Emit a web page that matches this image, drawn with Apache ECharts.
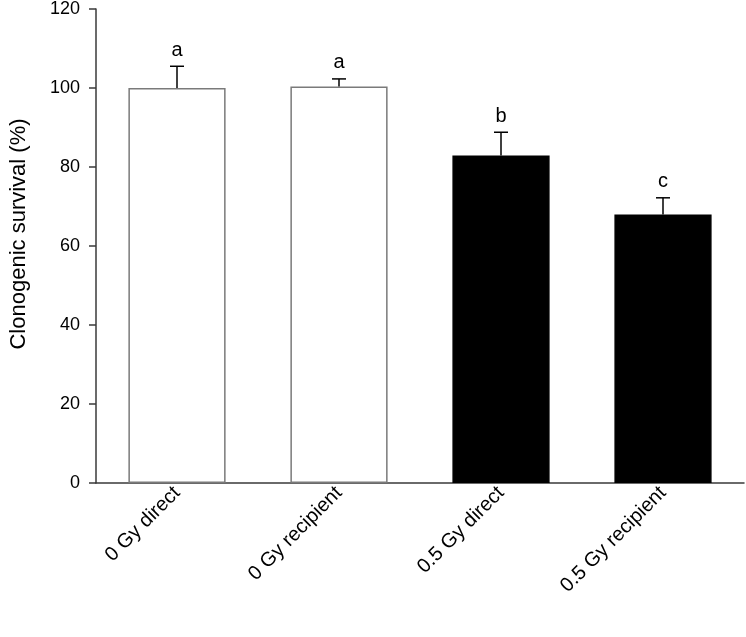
<!DOCTYPE html>
<html>
<head>
<meta charset="utf-8">
<script src="https://cdn.jsdelivr.net/npm/echarts@6/dist/echarts.min.js"></script>
<style>
  html, body { margin: 0; padding: 0; background: #fff; }
  #chart { width: 746px; height: 637px; }
</style>
</head>
<body>
<div id="chart"></div>
<script>
const categories = ['0 Gy direct', '0 Gy recipient', '0.5 Gy direct', '0.5 Gy recipient']
const survival = [100, 100.4, 82.9, 68.0]
const errorUp = [5.5, 1.9, 5.9, 4.2]
const letters = ['a', 'a', 'b', 'c']
const barFill = ['#ffffff', '#ffffff', '#000000', '#000000']
const yTicks = { min: 0, max: 120, interval: 20 }

const FONT = 'Liberation Sans, Arial, sans-serif'
const AXIS_COLOR = '#3a3a3a'

const chart = echarts.init(document.getElementById('chart'))

const barData = survival.map((v, i) => ({
  value: v,
  itemStyle: {
    color: barFill[i],
    borderColor: barFill[i] === '#000000' ? '#000000' : '#7a7a7a',
    borderWidth: 1.5
  }
}))

const errData = survival.map((v, i) => [i, v, v + errorUp[i], letters[i]])

chart.setOption({
  animation: false,
  grid: { left: 84, right: 2, top: 7, bottom: 154, containLabel: false },
  xAxis: {
    type: 'category',
    data: categories,
    axisLine: { lineStyle: { color: AXIS_COLOR, width: 1.5 } },
    axisTick: { alignWithLabel: true, length: 7, lineStyle: { color: '#000', width: 1.5 } },
    axisLabel: {
      rotate: 45, color: '#000', fontSize: 20, fontFamily: FONT, margin: 7,
      padding: [20, 0, 0, 0]
    }
  },
  yAxis: {
    type: 'value',
    min: yTicks.min,
    max: yTicks.max,
    interval: yTicks.interval,
    name: 'Clonogenic survival (%)',
    nameLocation: 'middle',
    nameGap: 66,
    nameTextStyle: { color: '#000', fontSize: 22, fontFamily: FONT, padding: [0, 0, 0, 24] },
    splitLine: { show: false },
    axisLine: { show: true, lineStyle: { color: AXIS_COLOR, width: 1.5 } },
    axisTick: { show: true, length: 7, lineStyle: { color: AXIS_COLOR, width: 1.5 } },
    axisLabel: { color: '#000', fontSize: 18, fontFamily: FONT, margin: 16 }
  },
  series: [
    {
      type: 'bar',
      data: barData,
      barWidth: '60%',
      z: 2
    },
    {
      type: 'custom',
      data: errData,
      z: 3,
      renderItem: function (params, api) {
        const x = api.value(0)
        const base = api.coord([x, api.value(1)])
        const top = api.coord([x, api.value(2)])
        const half = 7
        return {
          type: 'group',
          children: [
            { type: 'line', shape: { x1: base[0], y1: base[1], x2: top[0], y2: top[1] },
              style: { stroke: '#000', lineWidth: 1.5 } },
            { type: 'line', shape: { x1: top[0] - half, y1: top[1], x2: top[0] + half, y2: top[1] },
              style: { stroke: '#000', lineWidth: 1.5 } },
            { type: 'text', x: top[0], y: top[1] - 6,
              style: { text: api.value(3), fill: '#000', fontSize: 20, fontFamily: FONT,
                align: 'center', verticalAlign: 'bottom' } }
          ]
        }
      }
    }
  ]
})
</script>
</body>
</html>
